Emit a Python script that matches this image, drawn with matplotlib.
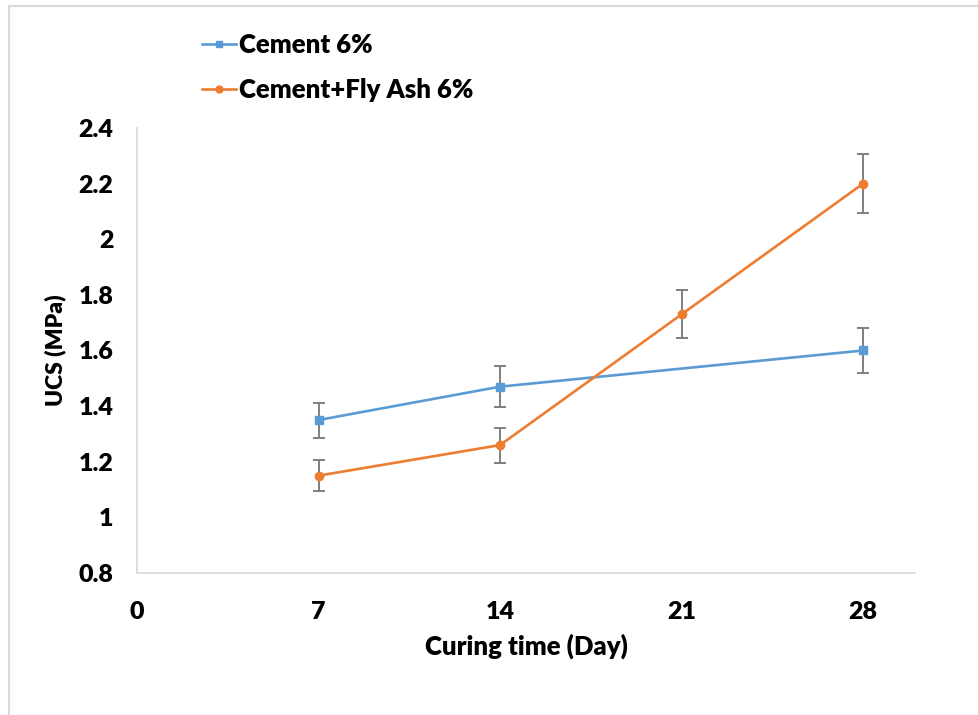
import matplotlib.pyplot as plt
from matplotlib.lines import Line2D

plt.rcParams['font.family'] = ['Lato', 'DejaVu Sans']
plt.rcParams['font.weight'] = 'heavy'

# 데이터
days_cement = [7, 14, 28]
ucs_cement = [1.35, 1.47, 1.60]
err_cement = [0.063, 0.073, 0.08]

days_fly = [7, 14, 21, 28]
ucs_fly = [1.15, 1.26, 1.73, 2.20]
err_fly = [0.056, 0.063, 0.086, 0.106]

x_ticks = [0, 7, 14, 21, 28]
y_ticks = [0.8, 1, 1.2, 1.4, 1.6, 1.8, 2, 2.2, 2.4]
y_labels = ['0.8', '1', '1.2', '1.4', '1.6', '1.8', '2', '2.2', '2.4']

fig = plt.figure(figsize=(9.79, 7.15), dpi=100)
ax = fig.add_axes([0.140, 0.1986, 0.7946, 0.6224])

ax.errorbar(days_cement, ucs_cement, yerr=err_cement, color='#5B9BD5', marker='s',
            markersize=6, linewidth=1.9, ecolor='#7F7F7F', elinewidth=1.4, capsize=4,
            capthick=1.4, label='Cement 6%')
ax.errorbar(days_fly, ucs_fly, yerr=err_fly, color='#ED7D31', marker='o',
            markersize=6, linewidth=1.9, ecolor='#7F7F7F', elinewidth=1.4, capsize=4,
            capthick=1.4, label='Cement+Fly Ash 6%')

ax.set_xlim(0, 30)
ax.set_ylim(0.8, 2.4)
ax.set_xticks(x_ticks)
ax.set_yticks(y_ticks)
ax.set_yticklabels(y_labels)
ax.tick_params(length=0, labelsize=18)
ax.tick_params(axis='y', pad=17)
ax.tick_params(axis='x', pad=20)

# 테두리 설정
for s in ['top', 'right']:
    ax.spines[s].set_visible(False)
for s in ['left', 'bottom']:
    ax.spines[s].set_color('#D9D9D9')
    ax.spines[s].set_linewidth(1.2)

ax.set_xlabel('Curing time (Day)', fontsize=18.5, fontweight='heavy', labelpad=8)
ax.set_ylabel('UCS (MPa)', fontsize=16.5, fontweight='heavy', va='center',
              rotation_mode='default')
ax.yaxis.set_label_coords(-0.105, 0.5)

# 범례에서 에러바 제외
handles = [Line2D([], [], color='#5B9BD5', marker='s', markersize=5, linewidth=1.9),
           Line2D([], [], color='#ED7D31', marker='o', markersize=5, linewidth=1.9)]
fig.legend(handles, ['Cement 6%', 'Cement+Fly Ash 6%'], loc='upper left',
           bbox_to_anchor=(0.196, 0.968), frameon=False, fontsize=18.5,
           handlelength=1.3, handletextpad=0.15, labelspacing=0.82, borderaxespad=0)

# 바깥 테두리
fig.add_artist(Line2D([0.0087, 1.0], [0.9916, 0.9916], color='#D9D9D9', linewidth=1.5))
fig.add_artist(Line2D([0.0087, 0.0087], [0.0, 0.9916], color='#D9D9D9', linewidth=1.5))

fig.savefig('out.png', dpi=100)
